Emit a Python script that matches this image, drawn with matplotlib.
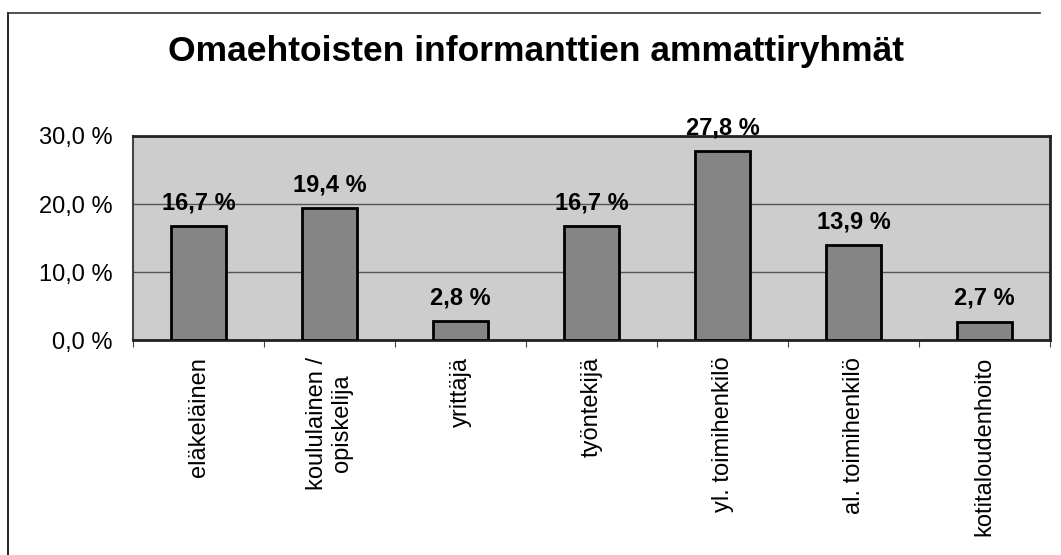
import numpy as np
import matplotlib
matplotlib.use("Agg")
import matplotlib.pyplot as plt
from matplotlib.lines import Line2D

plt.rcParams['font.family'] = ['Liberation Sans', 'DejaVu Sans']

categories = ['eläkeläinen', 'koululainen /\nopiskelija', 'yrittäjä', 'työntekijä',
              'yl. toimihenkilö', 'al. toimihenkilö', 'kotitaloudenhoito']
values = [16.7, 19.4, 2.8, 16.7, 27.8, 13.9, 2.7]
value_labels = ['16,7 %', '19,4 %', '2,8 %', '16,7 %', '27,8 %', '13,9 %', '2,7 %']
yticks = [0, 10, 20, 30]
ytick_labels = ['0,0 %', '10,0 %', '20,0 %', '30,0 %']
title = 'Omaehtoisten informanttien ammattiryhmät'

fig = plt.figure(figsize=(10.61, 5.55), dpi=100)
ax = fig.add_axes([133 / 1061, 1 - 340 / 555, (1050 - 133) / 1061, (340 - 136) / 555])
ax.set_facecolor('#cdcdcd')

x = np.arange(len(categories))
ax.bar(x, values, width=0.42, color='#858585', edgecolor='black', linewidth=2.0, zorder=3)

for xi, v, lab in zip(x, values, value_labels):
    ax.annotate(lab, (xi, v), xytext=(0, 12), textcoords='offset points',
                ha='center', va='baseline', fontsize=17, fontweight='bold', zorder=4)

ax.set_xlim(-0.5, len(categories) - 0.5)
ax.set_ylim(0, 30)
ax.set_yticks(yticks)
ax.set_yticklabels(ytick_labels, fontsize=17)
ax.tick_params(axis='y', length=0, pad=15)
ax.yaxis.grid(True, color='#555555', linewidth=1.0, zorder=1)
ax.set_axisbelow(True)

ax.set_xticks(x)
ax.set_xticklabels(categories, rotation=90, fontsize=17, va='top', ha='center',
                   multialignment='center')
ax.tick_params(axis='x', length=0, pad=12)
ax.set_xticks(np.arange(len(categories) + 1) - 0.5, minor=True)
ax.tick_params(axis='x', which='minor', length=5, width=0.8, color='#444444')

for s in ['top', 'right', 'bottom']:
    ax.spines[s].set_linewidth(2.0)
    ax.spines[s].set_color('#222222')
ax.spines['left'].set_linewidth(1.5)
ax.spines['left'].set_color('#444444')

fig.text(536 / 1061, 1 - 52 / 555, title, ha='center', va='center',
         fontsize=25.5, fontweight='bold')

# outer chart frame (left and top edges visible)
fig.add_artist(Line2D([8 / 1061, 8 / 1061], [0, 1 - 13 / 555], transform=fig.transFigure,
                      color='black', linewidth=1.2))
fig.add_artist(Line2D([8 / 1061, 1040 / 1061], [1 - 13 / 555, 1 - 13 / 555],
                      transform=fig.transFigure, color='#333333', linewidth=1.2))

fig.savefig('out.png', dpi=100)
